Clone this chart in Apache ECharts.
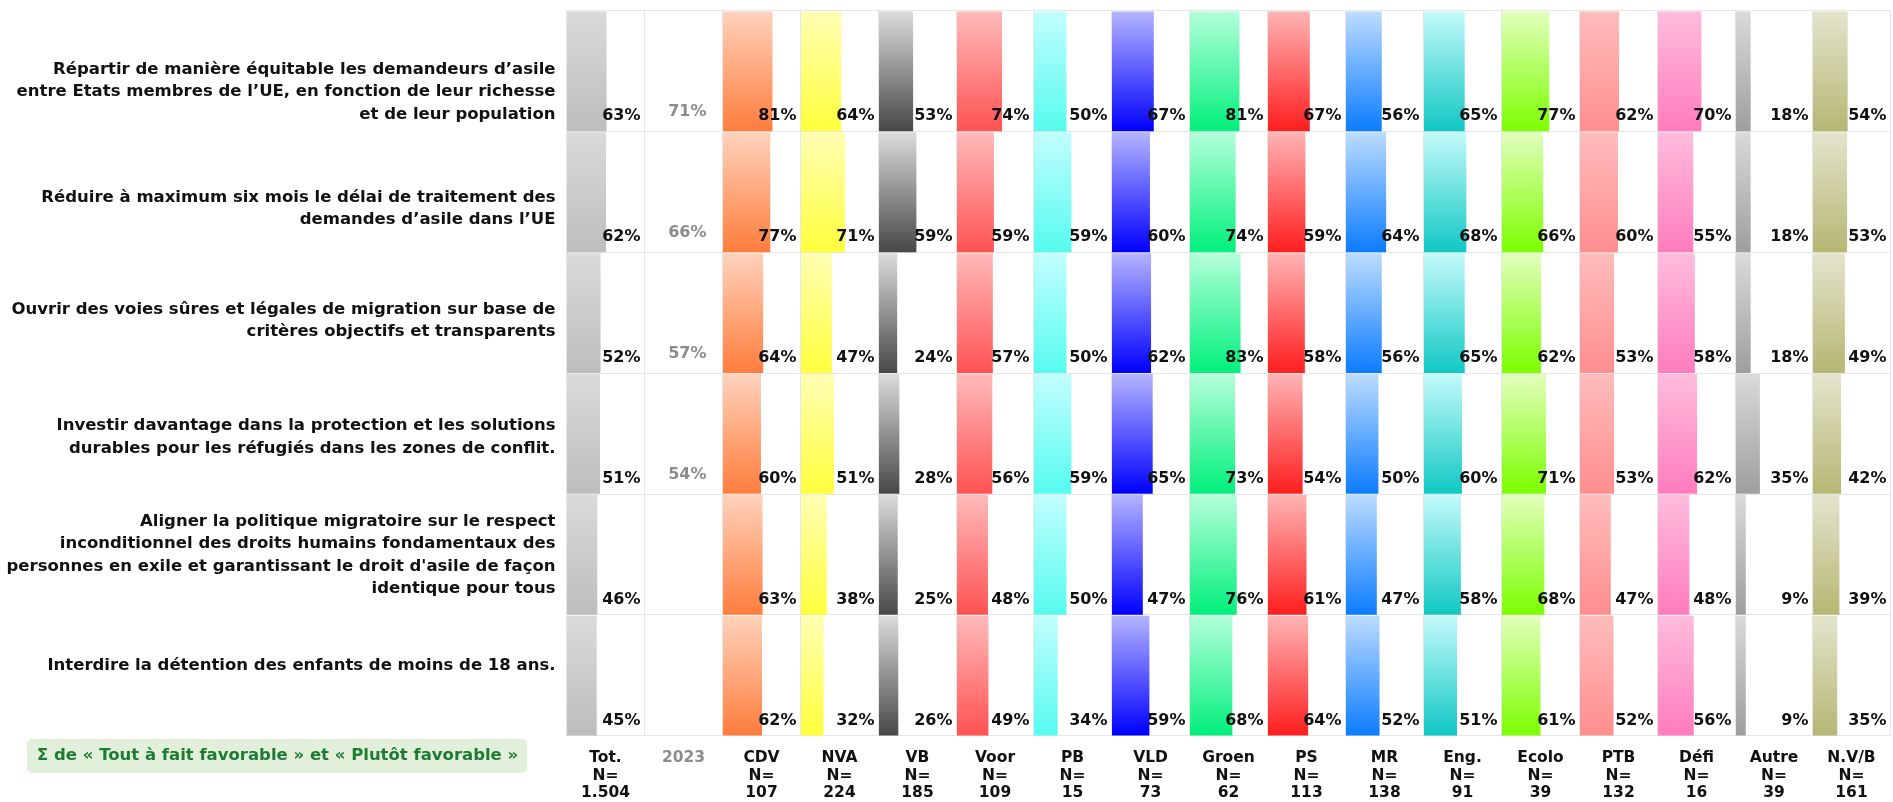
<!DOCTYPE html>
<html>
<head>
<meta charset="utf-8">
<script src="https://cdn.jsdelivr.net/npm/echarts@6/dist/echarts.min.js"></script>
<style>
  html, body { margin: 0; padding: 0; background: #ffffff; }
  #chart { width: 1893px; height: 802px; }
</style>
</head>
<body>
<div id="chart"></div>
<script>
// ---------- DATA ----------
const questions = [
  "Répartir de manière équitable les demandeurs d’asile\nentre Etats membres de l’UE, en fonction de leur richesse\net de leur population",
  "Réduire à maximum six mois le délai de traitement des\ndemandes d’asile dans l’UE",
  "Ouvrir des voies sûres et légales de migration sur base de\ncritères objectifs et transparents",
  "Investir davantage dans la protection et les solutions\ndurables pour les réfugiés dans les zones de conflit.",
  "Aligner la politique migratoire sur le respect\ninconditionnel des droits humains fondamentaux des\npersonnes en exile et garantissant le droit d'asile de façon\nidentique pour tous",
  "Interdire la détention des enfants de moins de 18 ans."
];
const columnNames = ["Tot.", "2023", "CDV", "NVA", "VB", "Voor", "PB", "VLD", "Groen", "PS", "MR", "Eng.", "Ecolo", "PTB", "Défi", "Autre", "N.V/B"];
const sampleSizes = ["1.504", "", "107", "224", "185", "109", "15", "73", "62", "113", "138", "91", "39", "132", "16", "39", "161"];

const tot   = [63, 62, 52, 51, 46, 45];
const y2023 = [71, 66, 57, 54, null, null];
const cdv   = [81, 77, 64, 60, 63, 62];
const nva   = [64, 71, 47, 51, 38, 32];
const vb    = [53, 59, 24, 28, 25, 26];
const voor  = [74, 59, 57, 56, 48, 49];
const pb    = [50, 59, 50, 59, 50, 34];
const vld   = [67, 60, 62, 65, 47, 59];
const groen = [81, 74, 83, 73, 76, 68];
const ps    = [67, 59, 58, 54, 61, 64];
const mr    = [56, 64, 56, 50, 47, 52];
const eng   = [65, 68, 65, 60, 58, 51];
const ecolo = [77, 66, 62, 71, 68, 61];
const ptb   = [62, 60, 53, 53, 47, 52];
const defi  = [70, 55, 58, 62, 48, 56];
const autre = [18, 18, 18, 35, 9, 9];
const nvb   = [54, 53, 49, 42, 39, 35];

const columnValues = [tot, y2023, cdv, nva, vb, voor, pb, vld, groen, ps, mr, eng, ecolo, ptb, defi, autre, nvb];
const legendText = "Σ de « Tout à fait favorable » et « Plutôt favorable »";

// ---------- STYLE ----------
const gradients = [
  ["#dadada", "#bdbdbd"],
  null,
  ["#ffd2bc", "#ff7d3c"],
  ["#ffffb4", "#ffff3c"],
  ["#dcdcdc", "#474747"],
  ["#ffbaba", "#ff5252"],
  ["#c2fefe", "#55fbef"],
  ["#b4b4ff", "#0000ff"],
  ["#b4ffda", "#00f07c"],
  ["#ffb4b4", "#ff1e1e"],
  ["#bcdcff", "#0c7cff"],
  ["#c4fafa", "#10c8c4"],
  ["#e2ffbc", "#7cff00"],
  ["#ffbcbc", "#ff8e8e"],
  ["#ffbcdc", "#ff7cbe"],
  ["#dadada", "#9e9e9e"],
  ["#e4e4cc", "#b6b674"]
];
const FONT = "'DejaVu Sans', 'Open Sans', sans-serif";
const GRID_LEFT = 566, COL_W = 77.9, GRID_TOP = 10.5, GRID_H = 725;
const BAR_BASE = -10, AXIS_MAX = 132;
const labelOffsets = [21, 17, 8, 4, 1, -9]; // vertical nudges (px) for question labels
const LINE_COLOR = "#e6e6e6";

const richSpacers = {};
labelOffsets.forEach((o, k) => {
  const hgt = Math.max(1, Math.abs(o) * 2);
  richSpacers['sp' + k] = { height: hgt, lineHeight: hgt, fontSize: 1 };
});

const chart = echarts.init(document.getElementById('chart'), null, { renderer: 'canvas' });

const grids = [], xAxes = [], yAxes = [], series = [];
columnNames.forEach((name, i) => {
  const l = Math.round(i * COL_W), r = Math.round((i + 1) * COL_W);
  grids.push({ left: GRID_LEFT + 0.5 + l, top: GRID_TOP, width: r - l, height: GRID_H,
               containLabel: false, outerBoundsMode: 'none',
               show: true, borderColor: LINE_COLOR, borderWidth: 1, backgroundColor: 'transparent' });
  const isRef = gradients[i] === null;
  xAxes.push({ type: 'value', gridIndex: i, min: BAR_BASE, max: AXIS_MAX, show: false });
  xAxes.push({
    type: 'category', gridIndex: i, position: 'bottom', data: [name],
    axisLine: { show: false }, axisTick: { show: false }, splitLine: { show: false },
    axisLabel: {
      margin: 14, interval: 0, fontFamily: FONT, fontWeight: 'bold', fontSize: 15.5,
      lineHeight: 17.5, color: isRef ? '#8c8c8c' : '#111111', align: 'center',
      formatter: v => isRef ? v : v + "\nN=\n" + sampleSizes[i]
    }
  });
  yAxes.push({
    type: 'category', gridIndex: i, inverse: true,
    data: questions,
    axisLine: { show: false }, axisTick: { show: false },
    splitLine: { show: true, lineStyle: { color: LINE_COLOR, width: 1 } },
    axisLabel: i === 0 ? {
      show: true, margin: 11, align: 'right', fontFamily: FONT, fontWeight: 'bold',
      fontSize: 16.5, lineHeight: 22.5, color: '#111111',
      formatter: (value, idx) => {
        const o = labelOffsets[idx];
        return o >= 0 ? '{sp' + idx + '| }\n' + value : value + '\n{sp' + idx + '| }';
      },
      rich: richSpacers
    } : { show: false }
  });
  const vals = columnValues[i];
  series.push({
    type: 'custom', xAxisIndex: i * 2, yAxisIndex: i, clip: false,
    data: vals.map((v, k) => [v, k]),
    encode: { x: 0, y: 1 },
    renderItem: (params, api) => {
      const v = api.value(0);
      const row = api.value(1);
      const center = api.coord([BAR_BASE, row]);
      const h = api.size([0, 1])[1];
      const right = api.coord([AXIS_MAX, row])[0];
      const children = [];
      if (v === null || v === undefined || isNaN(v)) return { type: 'group', children };
      if (!isRef) {
        const end = api.coord([v, row]);
        const g = gradients[i];
        children.push({
          type: 'rect',
          shape: { x: center[0] + 0.5, y: center[1] - h / 2 + 1, width: end[0] - center[0] - 0.5, height: h - 1 },
          style: { fill: new echarts.graphic.LinearGradient(0, 0, 0, 1, [{ offset: 0, color: g[0] }, { offset: 1, color: g[1] }]) }
        });
        children.push({
          type: 'text',
          style: { x: right - 4, y: center[1] + h / 2 - 15, text: v + '%', align: 'right', verticalAlign: 'middle',
                   fill: '#111111', font: 'bold 16px ' + FONT }
        });
      } else {
        children.push({
          type: 'text',
          style: { x: right - 16, y: center[1] + h / 2 - 19, text: v + '%', align: 'right', verticalAlign: 'middle',
                   fill: '#8c8c8c', font: 'bold 16px ' + FONT }
        });
      }
      return { type: 'group', children };
    }
  });
});

chart.setOption({
  animation: false,
  backgroundColor: '#ffffff',
  title: {
    text: legendText, left: 27, top: 739,
    backgroundColor: '#e2efda', borderRadius: 5, padding: [8, 9, 8, 10],
    textStyle: { fontFamily: FONT, fontWeight: 'bold', fontSize: 16.5, color: '#1e7b34', lineHeight: 18 }
  },
  grid: grids,
  xAxis: xAxes,
  yAxis: yAxes,
  series: series
});
</script>
</body>
</html>
